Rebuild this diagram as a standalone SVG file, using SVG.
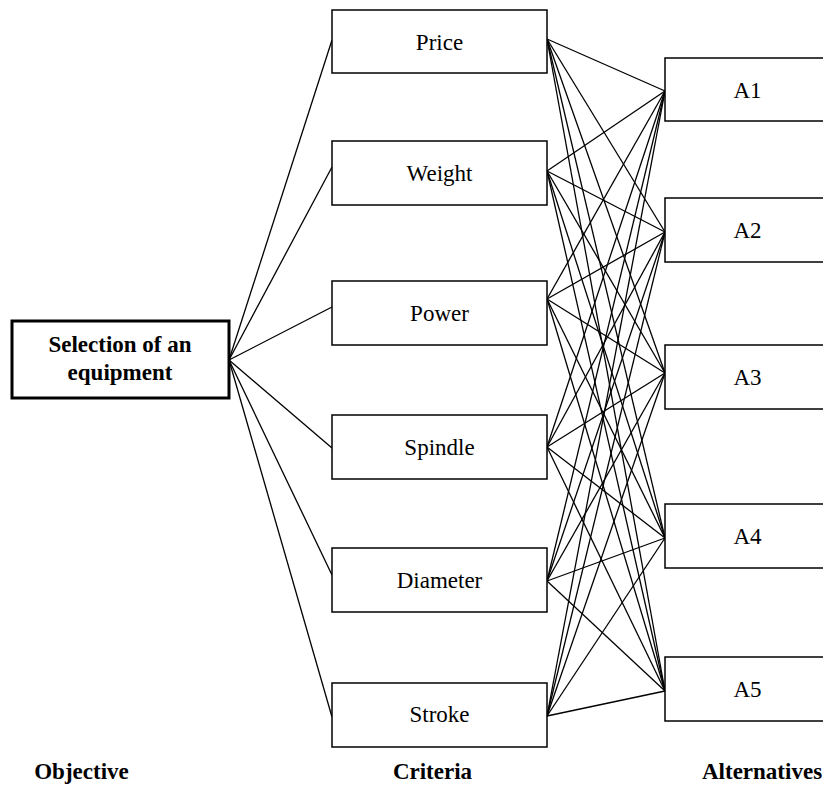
<svg xmlns="http://www.w3.org/2000/svg" width="823" height="785" viewBox="0 0 823 785">
<style>
.box{fill:#fff;stroke:#000;stroke-width:1.5}
.obj{fill:#fff;stroke:#000;stroke-width:3}
.b{font-weight:bold}
#connectors line{stroke:#000;stroke-width:1.3}
</style>
<rect width="823" height="785" fill="#fff"/>
<g id="connectors">
<line x1="229" y1="360" x2="332" y2="40"/>
<line x1="229" y1="360" x2="332" y2="167"/>
<line x1="229" y1="360" x2="332" y2="307"/>
<line x1="229" y1="360" x2="332" y2="448"/>
<line x1="229" y1="360" x2="332" y2="575"/>
<line x1="229" y1="360" x2="332" y2="717"/>
<line x1="547" y1="39" x2="665" y2="91"/><line x1="547" y1="39" x2="665" y2="232"/><line x1="547" y1="39" x2="665" y2="373"/><line x1="547" y1="39" x2="665" y2="538"/><line x1="547" y1="39" x2="665" y2="691"/>
<line x1="547" y1="171" x2="665" y2="91"/><line x1="547" y1="171" x2="665" y2="232"/><line x1="547" y1="171" x2="665" y2="373"/><line x1="547" y1="171" x2="665" y2="538"/><line x1="547" y1="171" x2="665" y2="691"/>
<line x1="547" y1="299" x2="665" y2="91"/><line x1="547" y1="299" x2="665" y2="232"/><line x1="547" y1="299" x2="665" y2="373"/><line x1="547" y1="299" x2="665" y2="538"/><line x1="547" y1="299" x2="665" y2="691"/>
<line x1="547" y1="447" x2="665" y2="91"/><line x1="547" y1="447" x2="665" y2="232"/><line x1="547" y1="447" x2="665" y2="373"/><line x1="547" y1="447" x2="665" y2="538"/><line x1="547" y1="447" x2="665" y2="691"/>
<line x1="547" y1="581" x2="665" y2="91"/><line x1="547" y1="581" x2="665" y2="232"/><line x1="547" y1="581" x2="665" y2="373"/><line x1="547" y1="581" x2="665" y2="538"/><line x1="547" y1="581" x2="665" y2="691"/>
<line x1="547" y1="716" x2="665" y2="91"/><line x1="547" y1="716" x2="665" y2="232"/><line x1="547" y1="716" x2="665" y2="373"/><line x1="547" y1="716" x2="665" y2="538"/><line x1="547" y1="716" x2="665" y2="691"/>
</g>
<g font-family="Liberation Serif, Times New Roman, serif" font-size="23" text-anchor="middle" fill="#000">
<g id="objective"><rect class="obj" x="12" y="321" width="217" height="77"/><text class="b" x="120" y="352">Selection of an</text><text class="b" x="120" y="380">equipment</text></g>
<g id="price"><rect class="box" x="332" y="10" width="215" height="63"/><text x="439.5" y="50">Price</text></g>
<g id="weight"><rect class="box" x="332" y="141" width="215" height="64"/><text x="439.5" y="181">Weight</text></g>
<g id="power"><rect class="box" x="332" y="281" width="215" height="64"/><text x="439.5" y="321">Power</text></g>
<g id="spindle"><rect class="box" x="332" y="415" width="215" height="64"/><text x="439.5" y="455">Spindle</text></g>
<g id="diameter"><rect class="box" x="332" y="548" width="215" height="64"/><text x="439.5" y="588">Diameter</text></g>
<g id="stroke"><rect class="box" x="332" y="683" width="215" height="64"/><text x="439.5" y="722">Stroke</text></g>
<g id="a1"><rect class="box" x="665" y="58" width="165" height="63"/><text x="747.5" y="98">A1</text></g>
<g id="a2"><rect class="box" x="665" y="198" width="165" height="64"/><text x="747.5" y="238">A2</text></g>
<g id="a3"><rect class="box" x="665" y="345" width="165" height="64"/><text x="747.5" y="385">A3</text></g>
<g id="a4"><rect class="box" x="665" y="504" width="165" height="64"/><text x="747.5" y="544">A4</text></g>
<g id="a5"><rect class="box" x="665" y="657" width="165" height="64"/><text x="747.5" y="697">A5</text></g>
<g id="labels">
<text class="b" x="81.5" y="779">Objective</text>
<text class="b" x="432.5" y="779">Criteria</text>
<text class="b" x="702" y="779" text-anchor="start">Alternatives</text>
</g>
</g>
</svg>
